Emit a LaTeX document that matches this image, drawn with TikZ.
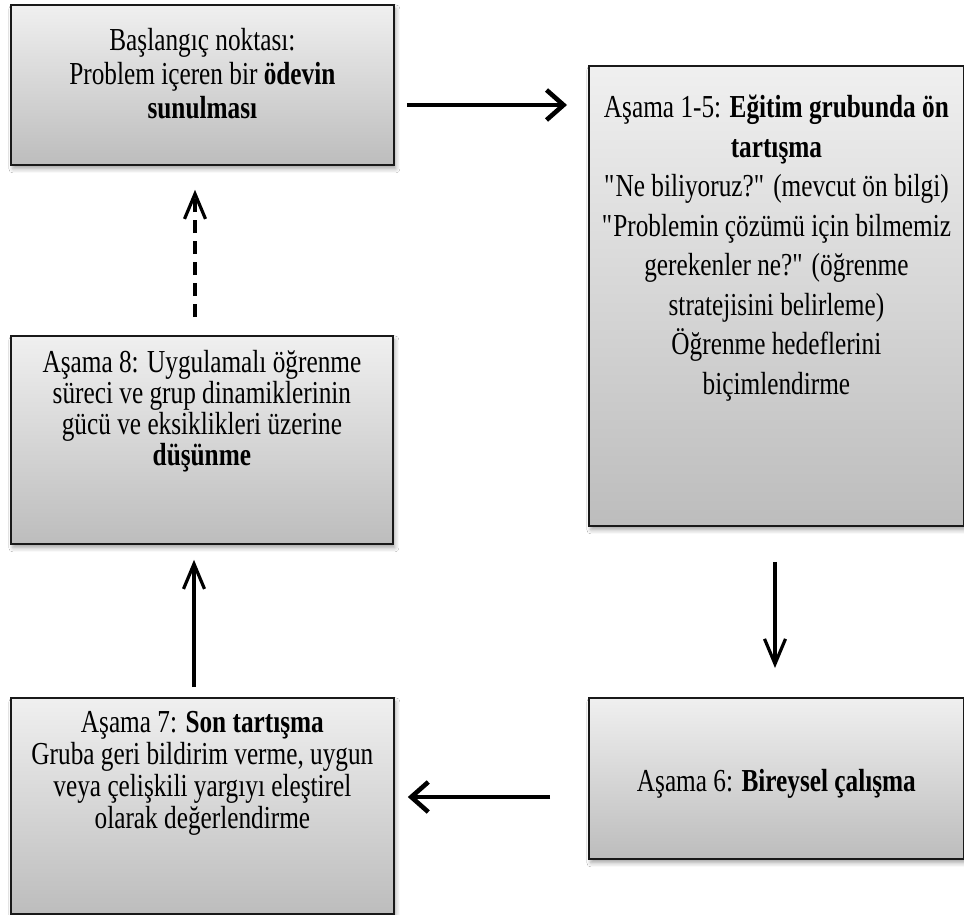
\documentclass[tikz,border=0pt]{standalone}
\usepackage{fontspec}
\setmainfont{Liberation Serif}[FakeStretch=0.79]
\usetikzlibrary{arrows.meta,shadows.blur}

% stage box content: width, height, first baseline, line pitch, text
\newcommand\stagetext[5]{%
  \parbox[c][#2][t]{#1}{\centering\fontsize{32}{#4}\selectfont
    \baselineskip=#4\relax\rule{0pt}{#3}#5\par}}
\newcommand\qq{\textquotedbl}

\tikzset{
  x=1pt, y=-1pt,
  stagebox/.style={
    draw=black!90, line width=1.8pt, inner sep=0pt, anchor=north west,
    top color=black!6, bottom color=black!26,
    blur shadow={shadow xshift=2pt, shadow yshift=-4pt,
                 shadow blur radius=4pt, shadow opacity=35}},
  thickarrow/.style={line width=4.6pt,
    -{Straight Barb[length=17pt,width=30pt]}},
  thinarrow/.style={line width=3.2pt,
    -{Straight Barb[length=25pt,width=21pt]}},
}

\begin{document}
\begin{tikzpicture}
\useasboundingbox (0,0) rectangle (964,915);
\fill[white] (0,0) rectangle (964,915);

\node[stagebox] (start) at (10,4)
  {\stagetext{383pt}{160pt}{46pt}{34pt}{Başlangıç noktası:\\
   Problem içeren bir \textbf{ödevin}\\ \textbf{sunulması}}};

\node[stagebox] (s15) at (588,65)
  {\stagetext{375pt}{460pt}{52pt}{39.5pt}{Aşama 1-5: \textbf{Eğitim grubunda ön}\\
   \textbf{tartışma}\\
   \qq\kern-1.5pt Ne biliyoruz?\qq\ (mevcut ön bilgi)\\
   \qq\kern-1.5pt Problemin çözümü için bilmemiz\\
   gerekenler ne?\qq\ (öğrenme\\
   stratejisini belirleme)\\
   Öğrenme hedeflerini\\
   biçimlendirme}};

\node[stagebox] (s8) at (10,335)
  {\stagetext{382pt}{208pt}{37pt}{31pt}{Aşama 8: Uygulamalı öğrenme\\
   süreci ve grup dinamiklerinin\\
   gücü ve eksiklikleri üzerine\\
   \textbf{düşünme}}};

\node[stagebox] (s7) at (10,697)
  {\stagetext{383pt}{216pt}{35pt}{32pt}{Aşama 7: \textbf{Son tartışma}\\
   Gruba geri bildirim verme, uygun\\
   veya çelişkili yargıyı eleştirel\\
   olarak değerlendirme}};

\node[stagebox] (s6) at (588,697)
  {\stagetext{375pt}{161pt}{94pt}{32pt}{Aşama 6: \textbf{Bireysel çalışma}}};

% connectors around the cycle
\draw[thickarrow, shorten <=12pt, shorten >=21pt]
  (start.east |- 0,105) -- (s15.west |- 0,105);
\draw[thinarrow, shorten <=35pt, shorten >=29pt]
  (775,0 |- s15.south) -- (775,0 |- s6.north);
\draw[thickarrow, shorten <=38pt, shorten >=13pt]
  (s6.west |- 0,797) -- (s7.east |- 0,797);
\draw[thinarrow, shorten <=10pt, shorten >=15pt]
  (194,0 |- s7.north) -- (194,0 |- s8.south);
\draw[thinarrow, dash pattern=on 13pt off 8pt, shorten <=18pt, shorten >=24pt]
  (195,0 |- s8.north) -- (195,0 |- start.south);
\end{tikzpicture}
\end{document}
